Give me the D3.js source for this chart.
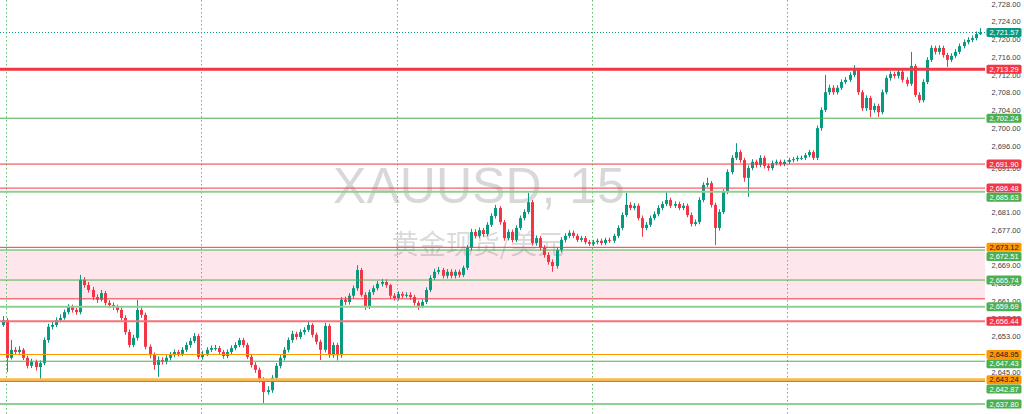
<!DOCTYPE html>
<html><head><meta charset="utf-8">
<script src="https://cdn.jsdelivr.net/npm/d3@7/dist/d3.min.js"></script>
<style>html,body{margin:0;padding:0;background:#fff;overflow:hidden}</style>
</head><body><svg id="c" width="1024" height="414"></svg>
<script>
// ---- DATA (XAUUSD 15m) ----
const opens = [
2655.6,2656.7,2648.2,2650.0,2649.5,2650.0,2648.2,2646.4,2647.3,2646.1,
2647.0,2652.2,2655.2,2655.6,2656.7,2657.2,2658.5,2659.7,2659.0,2658.5,
2665.8,2664.6,2663.5,2661.9,2661.3,2662.8,2660.6,2660.1,2659.7,2659.0,
2657.2,2654.0,2651.1,2652.7,2659.0,2657.9,2650.7,2648.8,2646.6,2647.7,
2647.3,2648.2,2648.8,2649.5,2649.1,2650.0,2651.1,2652.0,2653.1,2648.4,
2649.1,2650.0,2650.4,2650.4,2649.5,2648.6,2649.5,2650.4,2651.1,2652.2,
2651.1,2648.4,2646.6,2645.5,2643.2,2640.5,2640.9,2643.7,2646.4,2648.2,
2650.0,2652.2,2653.6,2652.9,2654.0,2654.5,2655.6,2653.4,2651.8,2650.0,
2655.4,2648.8,2651.1,2648.8,2661.3,2660.8,2662.2,2663.9,2668.0,2662.4,
2659.7,2663.0,2663.9,2664.9,2665.3,2664.6,2662.2,2661.7,2662.6,2662.2,
2662.4,2661.9,2660.6,2659.9,2660.8,2663.5,2666.2,2667.6,2668.0,2666.7,
2667.6,2666.7,2667.6,2666.9,2668.5,2673.0,2676.6,2675.7,2677.0,2676.1,
2678.2,2680.2,2682.0,2678.8,2675.2,2676.6,2674.8,2677.5,2679.7,2681.1,
2683.3,2674.1,2675.2,2673.0,2671.4,2669.8,2668.9,2672.5,2674.8,2675.7,
2676.4,2675.7,2674.8,2675.2,2674.3,2673.9,2674.3,2674.6,2674.1,2674.8,
2674.6,2675.7,2677.5,2680.4,2682.7,2682.0,2682.5,2679.7,2677.5,2678.2,
2679.7,2680.6,2682.0,2682.9,2683.8,2682.5,2682.9,2682.0,2682.5,2680.4,
2678.4,2678.8,2683.8,2687.2,2687.6,2682.7,2677.5,2681.1,2685.6,2690.1,
2693.3,2694.6,2692.8,2688.8,2691.0,2692.4,2691.7,2693.3,2691.5,2691.0,
2692.1,2692.4,2691.9,2692.4,2692.8,2693.0,2693.3,2693.3,2693.9,2694.6,
2693.3,2700.0,2704.1,2708.1,2709.1,2708.1,2709.1,2710.4,2710.9,2712.0,
2713.1,2708.1,2704.5,2706.8,2704.1,2705.0,2703.6,2708.1,2711.3,2712.2,
2711.8,2712.7,2710.9,2710.0,2714.0,2707.5,2706.3,2710.4,2715.4,2718.1,
2717.2,2718.1,2716.5,2715.4,2716.3,2717.2,2718.5,2719.4,2719.9,2720.3,
2721.2];
const highs = [
2657.6,2657.2,2652.2,2650.6,2650.8,2650.4,2648.7,2648.0,2647.8,2647.6,
2652.8,2655.9,2656.4,2657.3,2658.0,2659.1,2660.3,2660.2,2659.5,2666.9,
2666.4,2665.3,2664.2,2662.5,2663.5,2663.3,2661.2,2660.7,2660.2,2659.6,
2657.8,2654.6,2653.4,2661.3,2659.6,2658.4,2651.2,2649.4,2648.5,2648.3,
2648.8,2649.5,2650.1,2650.0,2650.6,2651.7,2652.7,2653.8,2653.6,2649.8,
2650.6,2651.0,2651.1,2650.9,2650.0,2650.1,2651.0,2651.7,2652.7,2652.7,
2651.6,2649.0,2647.2,2646.0,2643.8,2641.8,2644.3,2647.0,2648.8,2650.6,
2652.8,2654.3,2654.1,2654.6,2655.1,2656.3,2656.0,2653.9,2652.3,2656.1,
2655.9,2651.7,2651.6,2661.9,2662.0,2662.8,2664.5,2669.1,2668.5,2663.0,
2663.6,2664.5,2665.5,2666.0,2665.9,2664.9,2662.8,2663.2,2663.1,2663.0,
2663.0,2662.4,2661.1,2661.4,2664.1,2666.8,2668.3,2668.7,2668.5,2668.2,
2668.2,2668.1,2668.1,2669.0,2673.6,2677.3,2677.2,2677.6,2677.5,2678.8,
2680.8,2682.7,2682.4,2679.3,2677.2,2677.1,2678.1,2680.3,2681.7,2685.4,
2683.8,2675.8,2675.7,2673.6,2672.0,2670.4,2673.1,2675.4,2676.3,2677.0,
2676.9,2676.2,2675.7,2675.7,2674.8,2674.8,2675.1,2675.1,2675.3,2675.3,
2676.2,2678.1,2681.0,2685.4,2683.3,2683.1,2683.0,2680.3,2678.8,2680.3,
2681.2,2682.6,2683.5,2685.6,2684.3,2683.5,2683.4,2683.1,2683.0,2681.0,
2679.4,2684.4,2687.8,2688.8,2688.1,2683.2,2681.7,2686.2,2690.7,2693.9,
2696.6,2695.1,2693.3,2691.6,2693.0,2692.9,2693.9,2693.8,2692.0,2692.7,
2692.9,2692.9,2692.9,2693.3,2693.5,2693.8,2693.8,2694.4,2695.1,2695.0,
2700.6,2704.7,2712.0,2709.8,2709.7,2709.7,2711.0,2711.5,2712.6,2714.2,
2713.6,2708.6,2707.4,2707.3,2705.6,2705.5,2708.7,2711.9,2712.8,2712.7,
2713.3,2713.2,2711.5,2717.2,2714.5,2708.1,2711.0,2716.0,2718.7,2718.6,
2718.7,2718.6,2717.0,2716.9,2717.8,2719.1,2720.0,2720.5,2720.9,2721.8,
2722.6];
const lows = [
2655.2,2645.0,2647.8,2648.9,2649.1,2647.7,2645.8,2645.9,2645.3,2643.2,
2646.5,2651.6,2654.6,2655.1,2656.2,2656.8,2658.0,2658.4,2657.9,2658.0,
2664.0,2662.9,2661.2,2660.6,2660.9,2660.0,2659.5,2659.0,2658.4,2656.6,
2653.4,2650.5,2650.6,2652.1,2657.2,2650.1,2648.1,2645.5,2643.9,2646.7,
2646.7,2647.6,2648.3,2648.5,2648.6,2649.5,2650.5,2651.5,2647.9,2647.8,
2648.6,2649.5,2649.8,2649.0,2648.0,2648.1,2649.0,2649.9,2650.6,2650.5,
2647.9,2646.0,2644.8,2642.6,2638.0,2639.9,2640.3,2643.1,2645.8,2647.6,
2649.4,2651.6,2652.3,2652.4,2653.4,2654.0,2652.8,2651.2,2647.7,2649.4,
2648.2,2648.2,2647.6,2648.2,2660.1,2660.2,2661.6,2663.3,2662.0,2659.0,
2659.2,2662.4,2663.4,2664.3,2664.0,2661.6,2661.1,2661.1,2661.6,2661.8,
2661.3,2660.0,2659.0,2659.4,2660.3,2663.0,2665.7,2667.0,2666.1,2666.1,
2666.1,2666.1,2666.3,2666.4,2668.0,2672.4,2675.1,2675.2,2675.5,2675.6,
2677.7,2679.6,2678.2,2674.6,2674.7,2674.2,2674.3,2677.0,2679.2,2680.6,
2673.5,2673.5,2672.4,2670.8,2669.2,2667.6,2668.3,2672.0,2674.2,2675.2,
2675.2,2674.3,2674.3,2673.8,2673.4,2673.4,2673.8,2673.6,2673.6,2674.1,
2674.1,2675.2,2677.0,2680.0,2681.5,2681.5,2679.2,2675.5,2677.0,2677.7,
2679.2,2680.1,2681.5,2682.4,2682.0,2682.0,2681.5,2681.5,2679.9,2677.8,
2677.9,2678.3,2683.3,2686.7,2682.1,2673.6,2676.9,2680.6,2685.1,2689.6,
2692.8,2692.2,2687.9,2684.5,2690.5,2691.1,2691.2,2690.9,2690.4,2690.5,
2691.6,2691.4,2691.4,2691.9,2692.3,2692.5,2692.8,2692.8,2693.4,2692.8,
2692.8,2699.4,2703.6,2707.5,2707.5,2707.6,2708.6,2709.9,2710.4,2711.5,
2707.5,2703.9,2703.9,2702.5,2703.5,2702.5,2703.1,2707.6,2710.7,2711.2,
2711.2,2710.3,2709.4,2709.5,2707.0,2705.7,2705.8,2709.9,2714.9,2716.6,
2716.6,2715.9,2713.8,2714.9,2715.8,2716.7,2718.0,2718.9,2719.4,2719.8,
2721.0];
const closes = [
2656.7,2648.2,2650.0,2649.5,2650.0,2648.2,2646.4,2647.3,2646.1,2647.0,
2652.2,2655.2,2655.6,2656.7,2657.2,2658.5,2659.7,2659.0,2658.5,2665.8,
2664.6,2663.5,2661.9,2661.3,2662.8,2660.6,2660.1,2659.7,2659.0,2657.2,
2654.0,2651.1,2652.7,2659.0,2657.9,2650.7,2648.8,2646.6,2647.7,2647.3,
2648.2,2648.8,2649.5,2649.1,2650.0,2651.1,2652.0,2653.1,2648.4,2649.1,
2650.0,2650.4,2650.4,2649.5,2648.6,2649.5,2650.4,2651.1,2652.2,2651.1,
2648.4,2646.6,2645.5,2643.2,2640.5,2640.9,2643.7,2646.4,2648.2,2650.0,
2652.2,2653.6,2652.9,2654.0,2654.5,2655.6,2653.4,2651.8,2650.0,2655.4,
2648.8,2651.1,2648.8,2661.3,2660.8,2662.2,2663.9,2668.0,2662.4,2659.7,
2663.0,2663.9,2664.9,2665.3,2664.6,2662.2,2661.7,2662.6,2662.2,2662.4,
2661.9,2660.6,2659.9,2660.8,2663.5,2666.2,2667.6,2668.0,2666.7,2667.6,
2666.7,2667.6,2666.9,2668.5,2673.0,2676.6,2675.7,2677.0,2676.1,2678.2,
2680.2,2682.0,2678.8,2675.2,2676.6,2674.8,2677.5,2679.7,2681.1,2683.3,
2674.1,2675.2,2673.0,2671.4,2669.8,2668.9,2672.5,2674.8,2675.7,2676.4,
2675.7,2674.8,2675.2,2674.3,2673.9,2674.3,2674.6,2674.1,2674.8,2674.6,
2675.7,2677.5,2680.4,2682.7,2682.0,2682.5,2679.7,2677.5,2678.2,2679.7,
2680.6,2682.0,2682.9,2683.8,2682.5,2682.9,2682.0,2682.5,2680.4,2678.4,
2678.8,2683.8,2687.2,2687.6,2682.7,2677.5,2681.1,2685.6,2690.1,2693.3,
2694.6,2692.8,2688.8,2691.0,2692.4,2691.7,2693.3,2691.5,2691.0,2692.1,
2692.4,2691.9,2692.4,2692.8,2693.0,2693.3,2693.3,2693.9,2694.6,2693.3,
2700.0,2704.1,2708.1,2709.1,2708.1,2709.1,2710.4,2710.9,2712.0,2713.1,
2708.1,2704.5,2706.8,2704.1,2705.0,2703.6,2708.1,2711.3,2712.2,2711.8,
2712.7,2710.9,2710.0,2714.0,2707.5,2706.3,2710.4,2715.4,2718.1,2717.2,
2718.1,2716.5,2715.4,2716.3,2717.2,2718.5,2719.4,2719.9,2720.3,2721.2,
2721.57];

// axis tick labels visible in the reference (ticks fully covered by price labels omitted)
const axisTicks = [2728,2724,2720,2716,2712,2708,2704,2700,2696,2691,2681,2677,2669,2665,2661,2657,2653,2645];
const levelValues = [2713.29,2702.24,2691.90,2686.48,2685.63,2673.12,2672.51,2665.74,2661.50,2659.69,2656.44,2648.95,2647.43,2643.24,2642.87,2637.80];
const levelKinds  = ['redThick','green','red','red','greenSoft','red','green','green','red','greenSoft','redSoft','orange','green','orangeThick','green','greenSoft'];
const levelLabelKinds = ['red','green','red','red','green','orange','green','green',null,'green','red','orange','green','orange','green','green'];
const zoneRange = [2672.51, 2661.50];
const lastPrice = 2721.57;
const timeGridIdx = [0.75, 48.75, 96.75, 144.75, 192.75];
const watermarkTitle = "XAUUSD, 15";
const watermarkSub = "黄金现货/美元";

// ---- STYLES ----
const UP = "#089981", DOWN = "#f23645";
const lineStyle = {
  redThick:{stroke:"#f23645", w:3},
  red:{stroke:"#f23645", w:1},
  redSoft:{stroke:"#f7707a", w:2},
  green:{stroke:"#4caf50", w:1},
  greenSoft:{stroke:"#8fcf92", w:2},
  orange:{stroke:"#ff9800", w:1},
  orangeThick:{stroke:"#ffb74d", w:3}
};
const labelStyle = {
  red:{fill:"#f23645", text:"#fff"},
  green:{fill:"#4caf50", text:"#fff"},
  orange:{fill:"#ff9800", text:"#131722"},
  teal:{fill:"#089981", text:"#fff"}
};

const W = 1024, H = 414, plotRight = 985;
const svg = d3.select("#c");
const n = closes.length;
const x = d3.scaleLinear().domain([0, n - 1]).range([3, 979.8]);
const y = d3.scaleLinear().domain([2728, 2645]).range([4, 372]);
const fmt = d3.format(",.2f");
const FONT = "'Liberation Sans', Arial, sans-serif";

// zone
svg.append("rect").attr("x", 0).attr("width", plotRight)
  .attr("y", y(zoneRange[0])).attr("height", y(zoneRange[1]) - y(zoneRange[0]))
  .attr("fill", "#fde6ec");

// watermark
svg.append("text").attr("x", 479).attr("y", 203).attr("text-anchor", "middle")
  .attr("font-family", FONT).attr("font-size", 50).attr("fill", "rgba(60,60,60,0.2)")
  .text(watermarkTitle);
svg.append("text").attr("x", 478).attr("y", 254).attr("text-anchor", "middle")
  .attr("font-family", "'Noto Sans CJK SC', sans-serif").attr("font-size", 27).attr("fill", "rgba(60,60,60,0.2)")
  .text(watermarkSub);

// time grid
svg.append("g").selectAll("line").data(timeGridIdx).join("line")
  .attr("x1", d => Math.round(x(d)) + 0.5).attr("x2", d => Math.round(x(d)) + 0.5)
  .attr("y1", 0).attr("y2", H)
  .attr("stroke", "#66bb6a").attr("stroke-width", 1).attr("stroke-dasharray", "1.5,2.5");

// candles
const idx = d3.range(n);
const cg = svg.append("g");
cg.selectAll("line").data(idx).join("line")
  .attr("x1", i => Math.round(x(i)) + 0.5).attr("x2", i => Math.round(x(i)) + 0.5)
  .attr("y1", i => y(Math.max(highs[i], opens[i], closes[i])))
  .attr("y2", i => y(Math.min(lows[i], opens[i], closes[i])))
  .attr("stroke", i => closes[i] >= opens[i] ? UP : DOWN).attr("stroke-width", 1);
cg.selectAll("rect").data(idx).join("rect")
  .attr("x", i => Math.round(x(i)) - 1).attr("width", 3)
  .attr("y", i => y(Math.max(opens[i], closes[i])))
  .attr("height", i => Math.max(1, Math.abs(y(opens[i]) - y(closes[i]))))
  .attr("fill", i => closes[i] >= opens[i] ? UP : DOWN);

// level lines
svg.append("g").selectAll("line").data(levelValues).join("line")
  .attr("x1", 0).attr("x2", plotRight)
  .attr("y1", d => y(d)).attr("y2", d => y(d))
  .attr("stroke", (d, i) => lineStyle[levelKinds[i]].stroke)
  .attr("stroke-width", (d, i) => lineStyle[levelKinds[i]].w);

// last price dotted line
svg.append("line").attr("x1", 0).attr("x2", plotRight)
  .attr("y1", y(lastPrice)).attr("y2", y(lastPrice))
  .attr("stroke", "#089981").attr("stroke-width", 1).attr("stroke-dasharray", "1,2");

// axis ticks
svg.append("g").selectAll("text").data(axisTicks).join("text")
  .attr("x", 1006).attr("y", d => y(d)).attr("dy", "0.35em")
  .attr("text-anchor", "middle").attr("font-family", FONT).attr("font-size", 7.5)
  .attr("fill", "#3a3e4a").text(d => fmt(d));

// price labels with simple collision push-down
let labels = levelValues.map((v, i) => ({v, kind: levelLabelKinds[i]})).filter(d => d.kind);
labels.push({v: lastPrice, kind: "teal"});
labels.sort((a, b) => b.v - a.v);
let prev = -Infinity;
labels.forEach(d => { let yy = y(d.v); if (yy < prev + 9.2) yy = prev + 9.2; d.y = yy; prev = yy; });
const lg = svg.append("g").selectAll("g").data(labels).join("g")
  .attr("transform", d => `translate(0,${d.y})`);
lg.append("rect").attr("x", 986.5).attr("y", -4.5).attr("width", 35).attr("height", 9).attr("rx", 1.5)
  .attr("fill", d => labelStyle[d.kind].fill);
lg.append("text").attr("x", 1004).attr("y", 0).attr("dy", "0.35em").attr("text-anchor", "middle")
  .attr("font-family", FONT).attr("font-size", 7.5).attr("fill", d => labelStyle[d.kind].text)
  .text(d => fmt(d.v));
</script></body></html>
